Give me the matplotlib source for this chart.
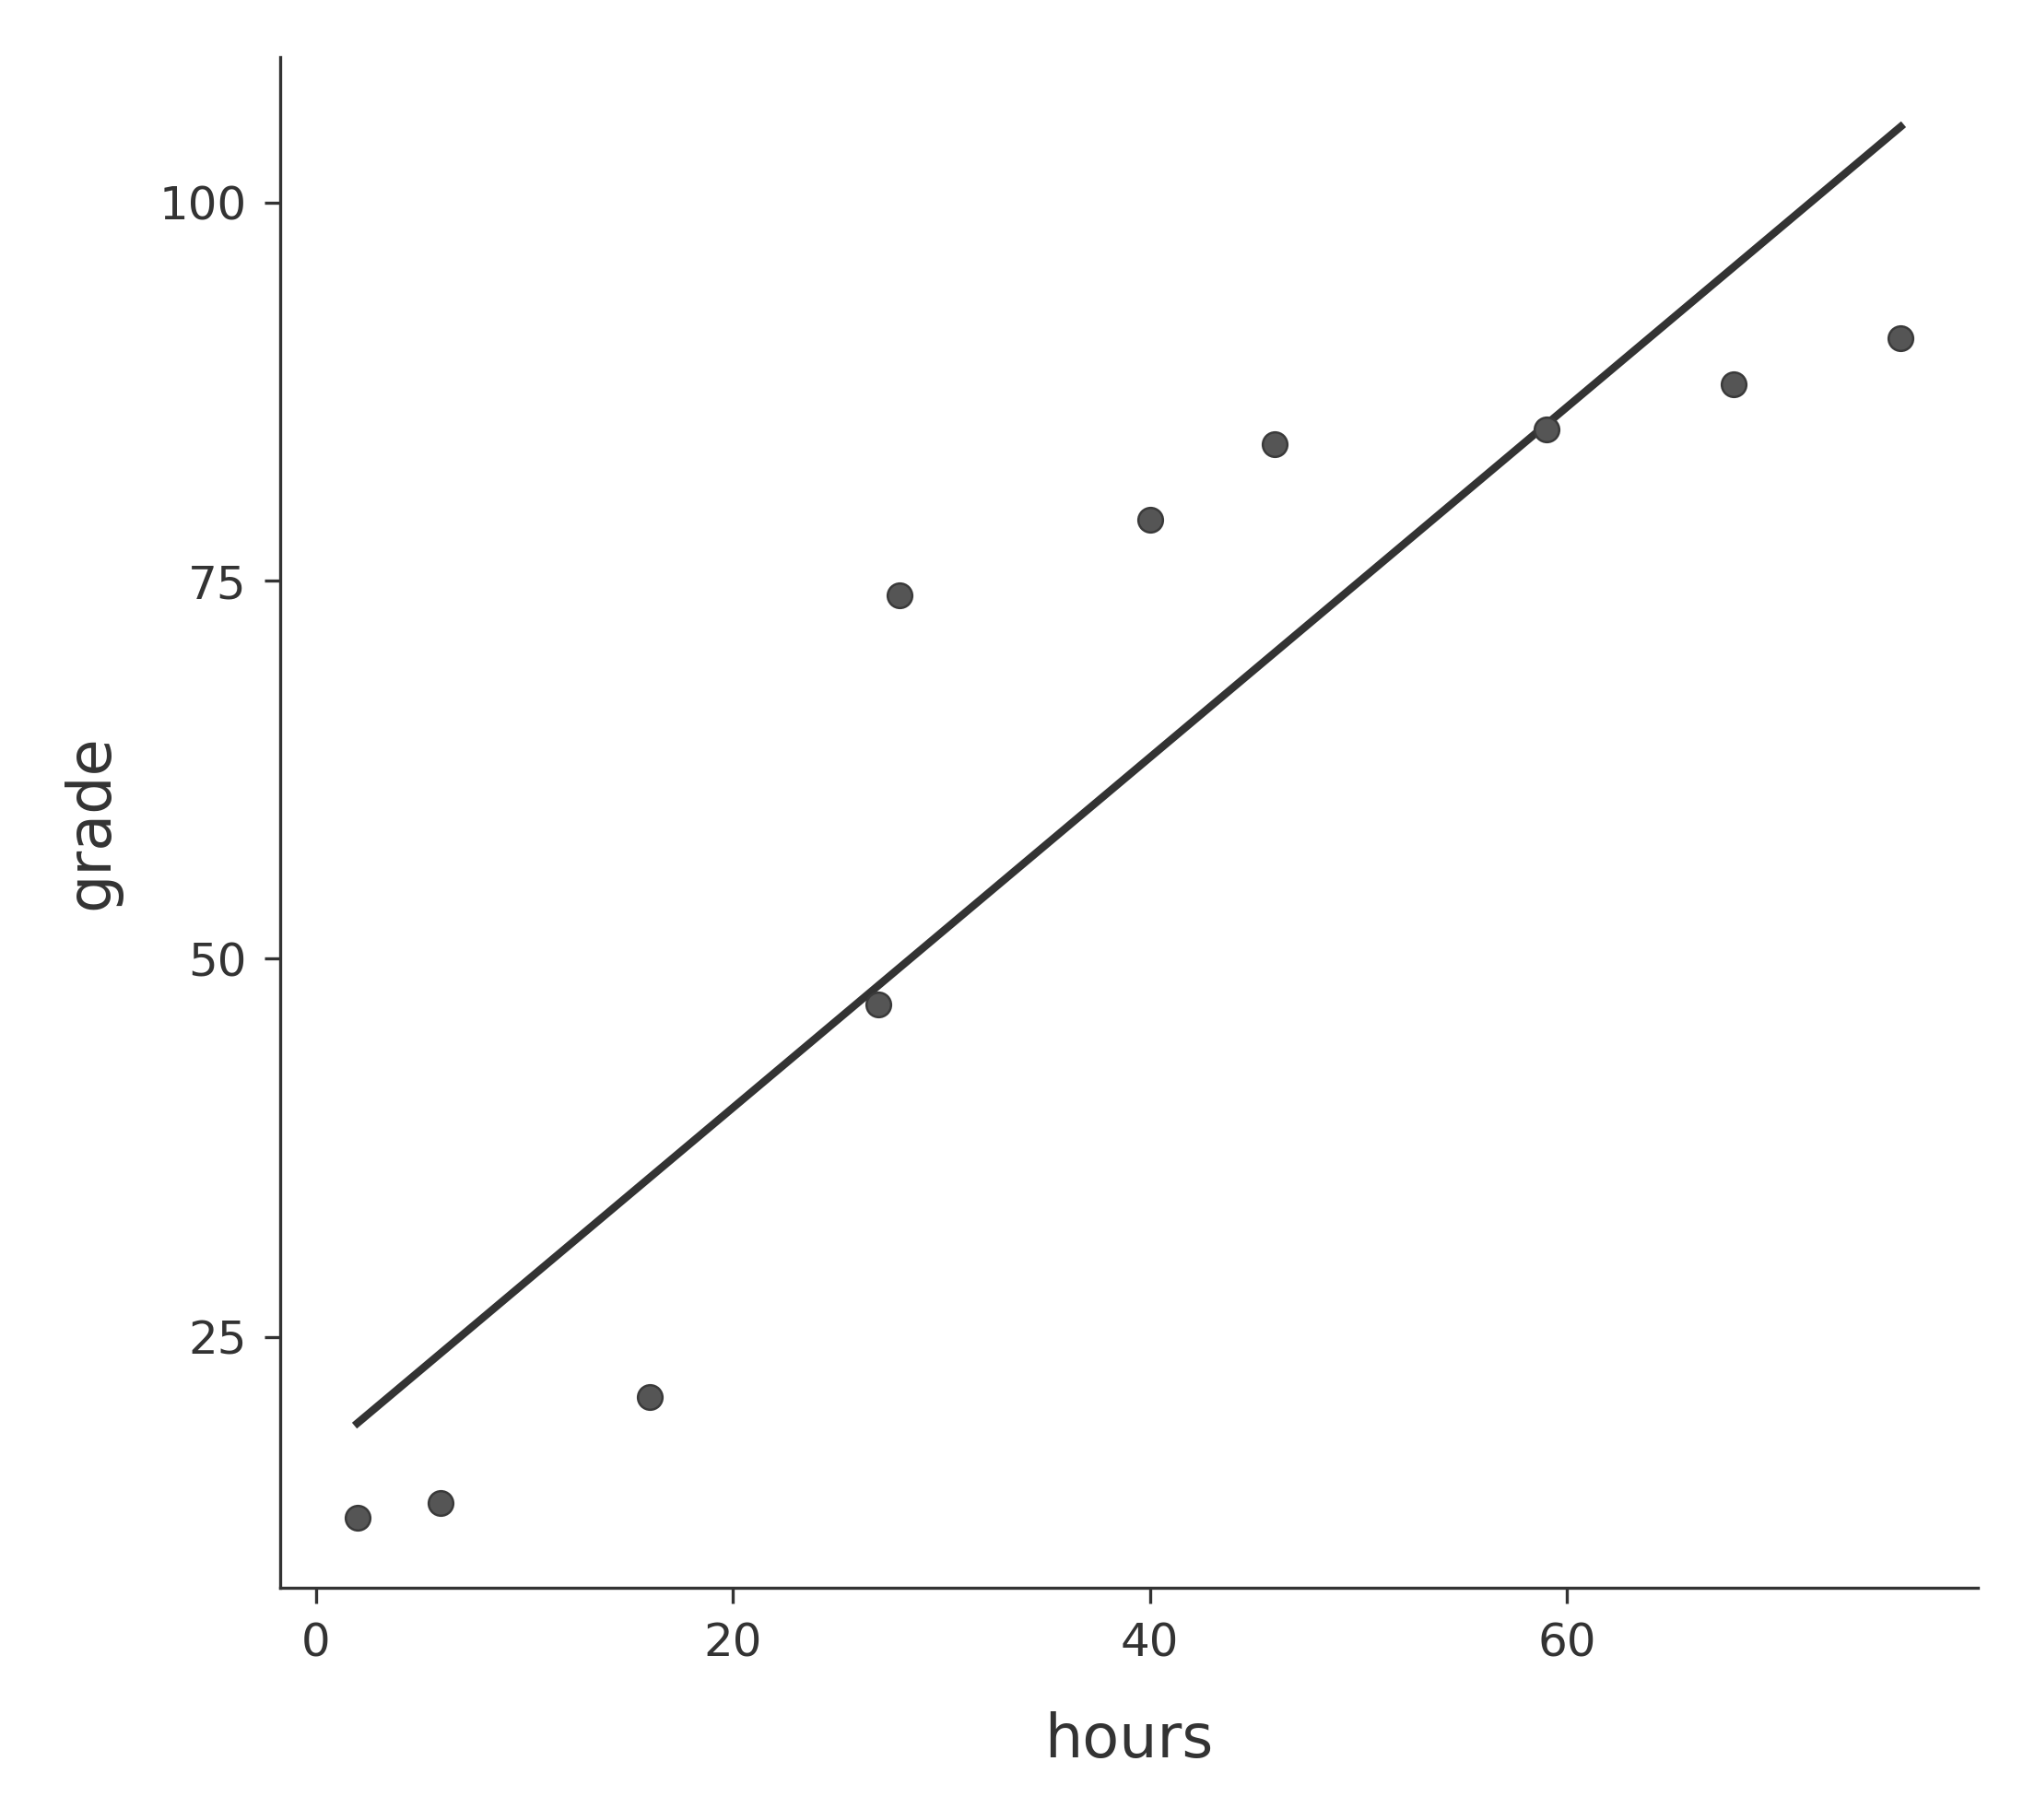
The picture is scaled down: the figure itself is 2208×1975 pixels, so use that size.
import numpy as np
import matplotlib
matplotlib.use("Agg")
import matplotlib.pyplot as plt

hours = [2, 6, 16, 27, 28, 40, 46, 59, 68, 76]
grade = [13, 14, 21, 47, 74, 79, 84, 85, 88, 91]
xticks = [0, 20, 40, 60]
yticks = [25, 50, 75, 100]

plt.rcParams['font.family'] = ['DejaVu Sans']
fig = plt.figure(figsize=(11.04, 9.875), dpi=200)
ax = fig.add_axes([0.1377, 0.1276, 0.8342, 0.841])

x = np.array(hours, dtype=float)
y = np.array(grade, dtype=float)
slope, intercept = np.polyfit(x, y, 1)
xl = np.array([x.min(), x.max()])
ax.scatter(x, y, s=92, color='#555555', edgecolor='#3a3a3a', linewidth=0.9, zorder=3)
ax.plot(xl, slope * xl + intercept, color='#333333', lw=3.0, zorder=2)

ax.set_xticks(xticks)
ax.set_yticks(yticks)
ax.margins(0.05)
for s in ['top', 'right']:
    ax.spines[s].set_visible(False)
for s in ['left', 'bottom']:
    ax.spines[s].set_linewidth(1.2)
    ax.spines[s].set_color('#333333')
ax.tick_params(length=6, width=1.2, color='#333333', labelsize=18, labelcolor='#333333', pad=7)
ax.set_xlabel('hours', fontsize=23.5, color='#333333', labelpad=18)
ax.set_ylabel('grade', fontsize=23.5, color='#333333', labelpad=15)

fig.savefig('out.png', dpi=200, facecolor='white')
